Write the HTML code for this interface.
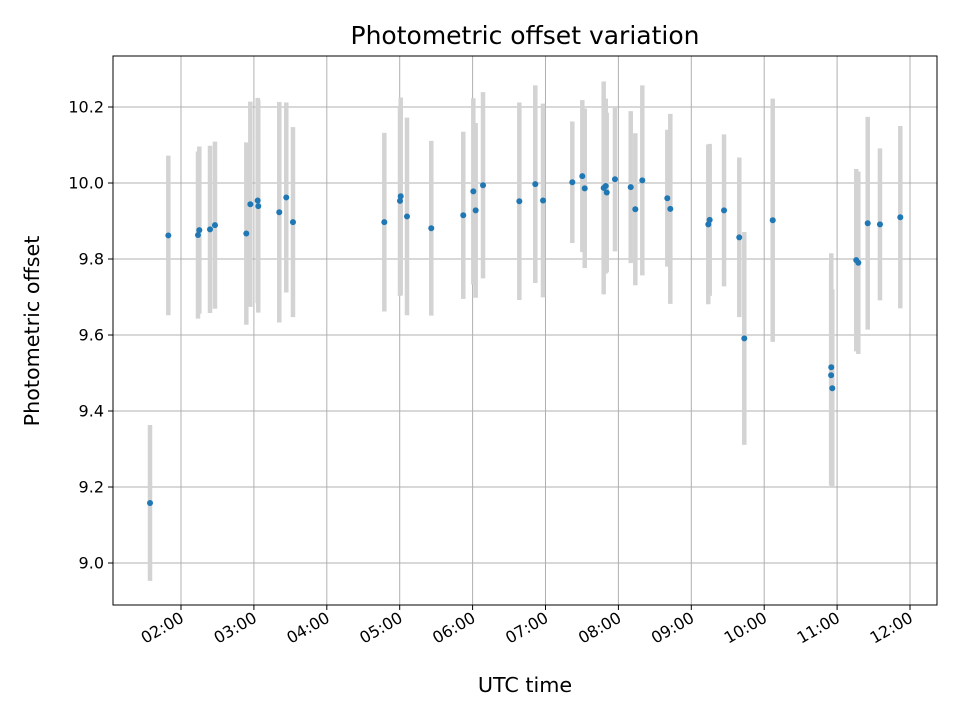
<!DOCTYPE html>
<html><head><meta charset="utf-8"><style>
body{margin:0;background:#fff;}
svg{font-family:"DejaVu Sans","Liberation Sans",sans-serif;}
</style></head><body>
<svg id="chart" width="960" height="720" xmlns="http://www.w3.org/2000/svg">
<rect width="960" height="720" fill="#fff"/>
<text x="525" y="44" text-anchor="middle" style="font-size:25px">Photometric offset variation</text>
<text x="525" y="692" text-anchor="middle" style="font-size:20.7px">UTC time</text>
<text transform="translate(39,331) rotate(-90)" text-anchor="middle" style="font-size:20.7px">Photometric offset</text>
<g id="grid"></g><g id="bars"></g><g id="pts"></g><g id="axes"></g>
</svg>
<script>
const hours=[1.575,1.826,2.233,2.251,2.398,2.466,2.896,2.951,3.052,3.060,3.348,3.444,3.536,4.789,5.014,5.004,5.100,5.433,5.872,6.010,6.042,6.143,6.641,6.860,6.966,7.368,7.505,7.538,7.798,7.826,7.840,7.953,8.169,8.232,8.328,8.671,8.712,9.233,9.252,9.449,9.658,9.727,10.117,10.920,10.918,10.934,11.263,11.291,11.420,11.588,11.867];
const offsets=[9.158,9.862,9.863,9.876,9.878,9.889,9.867,9.944,9.954,9.939,9.923,9.962,9.897,9.897,9.965,9.953,9.912,9.881,9.915,9.978,9.928,9.994,9.952,9.997,9.954,10.002,10.018,9.986,9.987,9.992,9.975,10.010,9.989,9.931,10.007,9.960,9.932,9.891,9.903,9.928,9.857,9.591,9.902,9.515,9.494,9.460,9.797,9.790,9.894,9.891,9.910];
const errors=[0.205,0.21,0.22,0.22,0.22,0.22,0.24,0.27,0.27,0.28,0.29,0.25,0.25,0.235,0.26,0.25,0.26,0.23,0.22,0.245,0.23,0.245,0.26,0.26,0.255,0.16,0.2,0.21,0.28,0.23,0.21,0.19,0.2,0.2,0.25,0.18,0.25,0.21,0.2,0.2,0.21,0.28,0.32,0.30,0.29,0.26,0.24,0.24,0.28,0.2,0.24];
const yTicks=[9.0,9.2,9.4,9.6,9.8,10.0,10.2];
const xTicks=[2,3,4,5,6,7,8,9,10,11,12];
const xTickLabels=["02:00","03:00","04:00","05:00","06:00","07:00","08:00","09:00","10:00","11:00","12:00"];
const L=113,R=937,T=56,B=605;
const xs=h=>181+(h-2)*72.9;
const ys=v=>183-(v-10)*380;
const NS="http://www.w3.org/2000/svg";
function mk(tag,attrs,parent){const e=document.createElementNS(NS,tag);for(const k in attrs)e.setAttribute(k,attrs[k]);parent.appendChild(e);return e;}
const grid=document.getElementById('grid'),bars=document.getElementById('bars'),pts=document.getElementById('pts'),axes=document.getElementById('axes');
yTicks.forEach(v=>{const y=ys(v);
 const g=mk('line',{x1:L,x2:R,y1:y,y2:y,stroke:'#b0b0b0','stroke-width':1},grid);
 
 
 mk('line',{x1:L-5,x2:L,y1:y,y2:y,stroke:'#000'},axes);
 const t=mk('text',{x:L-9,y:y+5.5,'text-anchor':'end',style:'font-size:16px'},axes);t.textContent=v.toFixed(1);
 
 
});
xTicks.forEach((h,i)=>{const x=xs(h);
 const g=mk('line',{x1:x,x2:x,y1:T,y2:B,stroke:'#b0b0b0','stroke-width':1},grid);
 
 
 mk('line',{x1:x,x2:x,y1:B,y2:B+5,stroke:'#000'},axes);
 const t=mk('text',{transform:`translate(${x+4},${B+16}) rotate(-30)`,'text-anchor':'end',style:'font-size:16px'},axes);t.textContent=xTickLabels[i];
 
 
});
hours.forEach((h,i)=>{const x=xs(h);
 const b=mk('line',{x1:x,x2:x,y1:ys(offsets[i]+errors[i]),y2:ys(offsets[i]-errors[i]),stroke:'#d3d3d3','stroke-width':4.5},bars);
 
 
});
hours.forEach((h,i)=>{
 const c=mk('circle',{cx:xs(h),cy:ys(offsets[i]),r:3,fill:'#1f77b4'},pts);
 
 
});
const f=mk('rect',{x:L,y:T,width:R-L,height:B-T,fill:'none',stroke:'#000','stroke-width':1},axes);


</script>
</body></html>
